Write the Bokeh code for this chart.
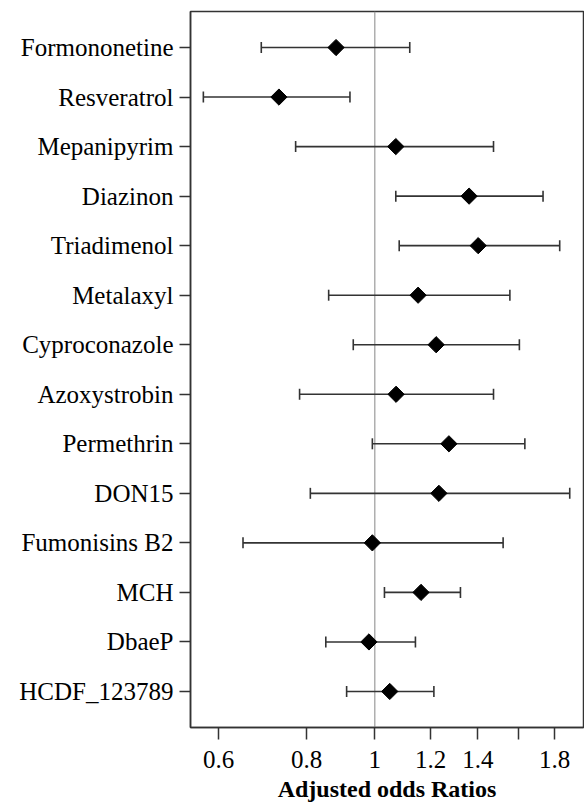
import numpy as np
from bokeh.plotting import figure
from bokeh.models import (Range1d, FactorRange, FixedTicker, CustomJSTickFormatter,
                          Title, Span, ColumnDataSource)
from bokeh.embed import file_html
from bokeh.resources import INLINE

categories = ["Formononetine", "Resveratrol", "Mepanipyrim", "Diazinon", "Triadimenol",
              "Metalaxyl", "Cyproconazole", "Azoxystrobin", "Permethrin", "DON15",
              "Fumonisins B2", "MCH", "DbaeP", "HCDF_123789"]
odds_ratio = [0.881, 0.731, 1.071, 1.361, 1.402, 1.152, 1.222, 1.072, 1.274, 1.233,
              0.992, 1.163, 0.981, 1.050]
ci_lower = [0.690, 0.571, 0.772, 1.071, 1.083, 0.860, 0.932, 0.782, 0.992, 0.810,
            0.650, 1.032, 0.852, 0.912]
ci_upper = [1.121, 0.922, 1.474, 1.733, 1.830, 1.555, 1.604, 1.474, 1.633, 1.891,
            1.521, 1.323, 1.142, 1.213]
x_tick_values = [0.6, 0.8, 1.0, 1.2, 1.4, 1.6, 1.8]
x_tick_labels = ["0.6", "0.8", "1", "1.2", "1.4", "", "1.8"]
reference_value = 1.0

src = ColumnDataSource(dict(cat=categories, orv=odds_ratio, lo=ci_lower, hi=ci_upper))

FONT = "Liberation Serif"
DARK = "#333333"

p = figure(width=584, height=805, x_axis_type="log",
           x_range=Range1d(0.5475, 1.978),
           y_range=FactorRange(factors=categories[::-1], range_padding=0.0325),
           output_backend="svg", toolbar_location=None,
           min_border_left=190, min_border_right=1, min_border_top=11, min_border_bottom=0)

p.add_layout(Span(location=reference_value, dimension="height", line_color="#9a9a9a",
                  line_width=1.2, level="underlay"))

p.segment(x0="lo", y0="cat", x1="hi", y1="cat", source=src, line_color=DARK, line_width=1.6)
p.scatter(x="lo", y="cat", marker="dash", angle=np.pi / 2, size=11, line_color=DARK,
          line_width=1.6, source=src)
p.scatter(x="hi", y="cat", marker="dash", angle=np.pi / 2, size=11, line_color=DARK,
          line_width=1.6, source=src)
p.scatter(x="orv", y="cat", marker="square", angle=np.pi / 4, size=11.5,
          fill_color="black", line_color="black", source=src)

p.grid.visible = False
p.outline_line_color = DARK
p.outline_line_width = 1.5
p.outline_line_alpha = 1.0

p.xaxis.ticker = FixedTicker(ticks=x_tick_values, minor_ticks=[])
p.xaxis.formatter = CustomJSTickFormatter(
    args=dict(vals=x_tick_values, labs=x_tick_labels),
    code="const i = vals.findIndex(v => Math.abs(v - tick) < 1e-9); return i >= 0 ? labs[i] : '';")

for ax in (p.xaxis, p.yaxis):
    ax.major_label_text_font = FONT
    ax.major_label_text_font_size = "25px"
    ax.major_label_text_color = "black"
    ax.major_tick_in = 0
    ax.minor_tick_in = 0
    ax.minor_tick_out = 0
    ax.major_tick_line_color = DARK
    ax.major_tick_line_width = 1.5
    ax.axis_line_color = DARK
    ax.axis_line_width = 1.5

p.xaxis.major_tick_out = 12
p.xaxis.major_label_standoff = 11
p.yaxis.major_tick_out = 11
p.yaxis.major_label_standoff = 6

p.add_layout(Title(text="Adjusted odds Ratios", align="center", text_font=FONT,
                   text_font_size="24px", text_font_style="bold", text_color="black",
                   offset=16, standoff=7), "below")

open("out.html", "w").write(file_html(p, INLINE))
